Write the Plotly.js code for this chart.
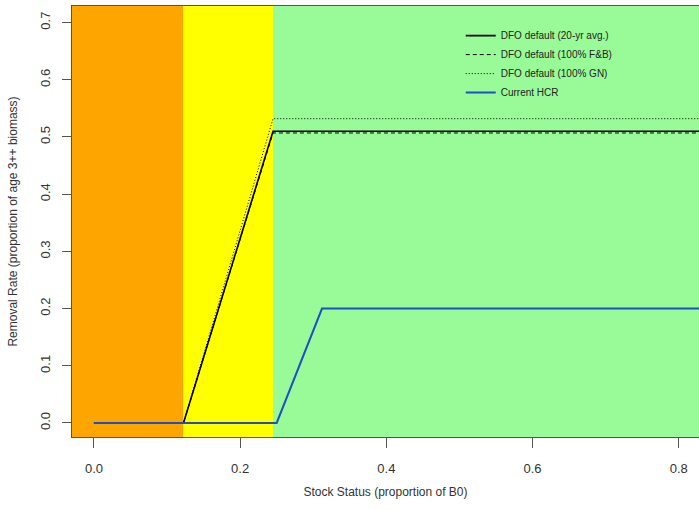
<!DOCTYPE html>
<html>
<head>
<meta charset="utf-8">
<script src="https://cdn.plot.ly/plotly-3.0.1.min.js"></script>
<style>html,body{margin:0;padding:0;background:#fff;}#chart{width:699px;height:510px;}</style>
</head>
<body>
<div id="chart"></div>
<script>
// Data
var stockStatus = [0.0, 0.1225, 0.245, 0.85];
var dfoAvg      = [0.0, 0.0, 0.510, 0.510];
var dfoFB       = [0.0, 0.0, 0.507, 0.507];
var dfoGN       = [0.0, 0.0, 0.532, 0.532];
var hcrX        = [0.0, 0.250, 0.312, 0.85];
var hcrY        = [0.0, 0.0, 0.200, 0.200];
var zoneEdges   = [0.1225, 0.245];
var seriesNames = ["DFO default (20-yr avg.)", "DFO default (100% F&B)", "DFO default (100% GN)", "Current HCR"];
var xTicks = [0.0, 0.2, 0.4, 0.6, 0.8];
var yTicks = [0.0, 0.1, 0.2, 0.3, 0.4, 0.5, 0.6, 0.7];

var xRange = [-0.030, 0.8277];
var yRange = [-0.0245, 0.729];

var traces = [
  {x: stockStatus, y: dfoAvg, name: seriesNames[0], mode: 'lines', line: {color: '#000000', width: 1.6}},
  {x: stockStatus, y: dfoFB, name: seriesNames[1], mode: 'lines', line: {color: '#000000', width: 1, dash: '4px,3px'}},
  {x: stockStatus, y: dfoGN, name: seriesNames[2], mode: 'lines', line: {color: '#000000', width: 1, dash: '1px,2px'}},
  {x: hcrX, y: hcrY, name: seriesNames[3], mode: 'lines', line: {color: '#1f4fc4', width: 2}}
];

var zoneColors = ['#FFA500', '#FFFF00', '#98FB98'];
var bounds = [xRange[0], zoneEdges[0], zoneEdges[1], xRange[1]];
var shapes = [];
for (var i = 0; i < 3; i++) {
  shapes.push({type: 'rect', xref: 'x', yref: 'paper', x0: bounds[i], x1: bounds[i+1], y0: 0, y1: 1,
    fillcolor: zoneColors[i], line: {width: 0}, layer: 'below'});
}

var fontFam = 'Liberation Sans, Arial, sans-serif';
var layout = {
  width: 699, height: 510,
  margin: {l: 72, r: 0, t: 6, b: 73},
  paper_bgcolor: '#ffffff', plot_bgcolor: '#ffffff',
  showlegend: true,
  legend: {x: 0.620, y: 0.965, xanchor: 'left', yanchor: 'top', bgcolor: 'rgba(0,0,0,0)',
    font: {family: fontFam, size: 10, color: '#222'}, itemwidth: 30, tracegroupgap: 0},
  shapes: shapes,
  xaxis: {range: xRange, tickvals: xTicks, ticktext: xTicks.map(function(v){return v.toFixed(1);}),
    showgrid: false, zeroline: false, showline: true, mirror: true, linecolor: '#555', linewidth: 1,
    ticks: 'outside', ticklen: 10, tickcolor: '#555', tickwidth: 1, ticklabelstandoff: 9,
    tickfont: {family: fontFam, size: 13, color: '#333'},
    title: {text: 'Stock Status (proportion of B0)', font: {family: fontFam, size: 12, color: '#333'}, standoff: 13}},
  yaxis: {range: yRange, tickvals: yTicks, ticktext: yTicks.map(function(v){return v.toFixed(1);}),
    showgrid: false, zeroline: false, showline: true, linecolor: '#555', linewidth: 1,
    ticks: 'outside', ticklen: 9, tickcolor: '#555', tickwidth: 1, tickangle: -90, ticklabelstandoff: 7,
    tickfont: {family: fontFam, size: 13, color: '#333'},
    title: {text: 'Removal Rate (proportion of age 3++ biomass)', font: {family: fontFam, size: 12, color: '#333'}, standoff: 17}}
};

Plotly.newPlot('chart', traces, layout, {displayModeBar: false, staticPlot: true});
</script>
</body>
</html>
